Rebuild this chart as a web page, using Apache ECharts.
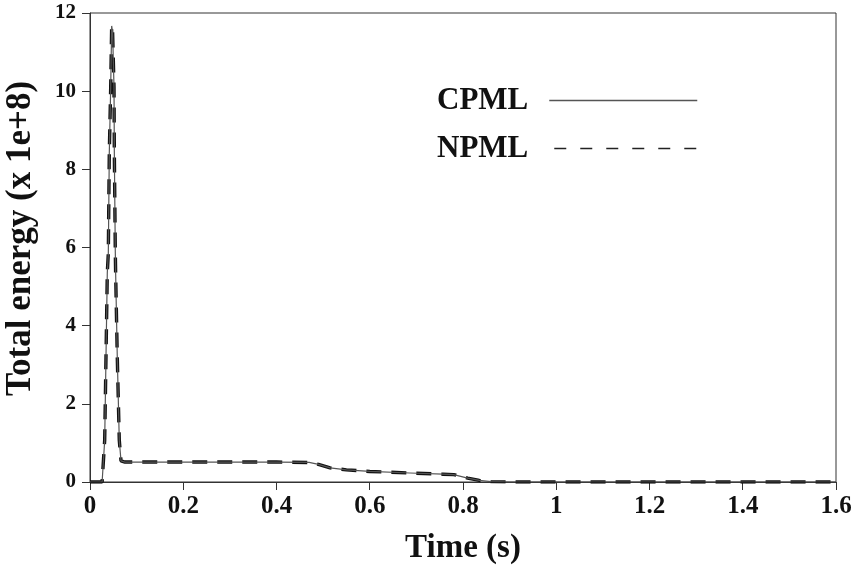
<!DOCTYPE html>
<html>
<head>
<meta charset="utf-8">
<script src="https://cdn.jsdelivr.net/npm/echarts@6/dist/echarts.min.js"></script>
<style>html,body{margin:0;padding:0;background:#fff}#c{width:860px;height:576px}</style>
</head>
<body>
<div id="c"></div>
<script>
// Time (s)
const timeValues = [0, 0.026, 0.0315, 0.0343, 0.0371, 0.0393, 0.0414, 0.0444, 0.0465, 0.0485, 0.0515, 0.0522, 0.0543, 0.055, 0.0585, 0.0628, 0.0665, 0.075, 0.2, 0.4, 0.47, 0.49, 0.515, 0.55, 0.6, 0.686, 0.757, 0.78, 0.81, 0.835, 0.86, 0.9, 1.2, 1.6];
// Total energy (x 1e+8)
const cpmlValues = [0, 0, 1.07, 3.2, 5.35, 5.86, 8.42, 10.1, 11.67, 11.5, 10.1, 8.42, 5.86, 5.35, 3.2, 1.07, 0.54, 0.51, 0.51, 0.51, 0.5, 0.45, 0.36, 0.31, 0.27, 0.23, 0.2, 0.19, 0.1, 0.04, 0.01, 0, 0, 0];
const npmlValues = [0, 0, 1.07, 3.2, 5.35, 5.86, 8.42, 10.1, 11.67, 11.5, 10.1, 8.42, 5.86, 5.35, 3.2, 1.07, 0.54, 0.51, 0.51, 0.51, 0.5, 0.45, 0.36, 0.31, 0.27, 0.23, 0.2, 0.19, 0.1, 0.04, 0.01, 0, 0, 0];
const seriesNames = ['CPML', 'NPML'];
const xTicks = [0, 0.2, 0.4, 0.6, 0.8, 1, 1.2, 1.4, 1.6];
const yTicks = [0, 2, 4, 6, 8, 10, 12];

const font = '"Liberation Serif", "Times New Roman", serif';
const axisColor = '#333';
const pair = (xs, ys) => xs.map((x, i) => [x, ys[i]]);

const chart = echarts.init(document.getElementById('c'));
chart.setOption({
  animation: false,
  backgroundColor: '#fff',
  grid: { left: 90, right: 24, top: 13, bottom: 94, show: true, borderColor: axisColor, borderWidth: 1, containLabel: false, outerBoundsMode: 'none' },
  legend: {
    orient: 'vertical',
    left: 432, top: 80,
    align: 'right',
    itemWidth: 148, itemHeight: 14, itemGap: 17,
    textStyle: { fontFamily: font, fontWeight: 'bold', fontSize: 31, color: '#111', padding: [0, 16, 0, 0] },
    data: [
      { name: seriesNames[0], itemStyle: { opacity: 0 }, lineStyle: { color: '#555', width: 1.5, type: 'solid' } },
      { name: seriesNames[1], itemStyle: { opacity: 0 }, lineStyle: { color: '#222', width: 1.5, type: [12, 14], dashOffset: -5 } }
    ]
  },
  xAxis: {
    type: 'value', min: 0, max: 1.6, interval: 0.2,
    name: 'Time (s)', nameLocation: 'middle', nameGap: 50,
    nameTextStyle: { fontFamily: font, fontWeight: 'bold', fontSize: 33, color: '#111' },
    axisLine: { show: true, onZero: false, lineStyle: { color: axisColor, width: 1 } },
    axisTick: { show: true, length: 8, lineStyle: { color: axisColor } },
    splitLine: { show: false },
    axisLabel: { fontFamily: font, fontWeight: 'bold', fontSize: 25, color: '#111', margin: 12,
      formatter: v => { const t = xTicks.find(k => Math.abs(k - v) < 1e-9); return t === undefined ? '' : String(+t.toFixed(1)); } }
  },
  yAxis: {
    type: 'value', min: 0, max: 12, interval: 2,
    name: 'Total energy (x 1e+8)', nameLocation: 'middle', nameGap: 52, nameRotate: 90,
    nameTextStyle: { fontFamily: font, fontWeight: 'bold', fontSize: 35, color: '#111', padding: [0, 0, 0, 18] },
    axisLine: { show: true, lineStyle: { color: axisColor, width: 1 } },
    axisTick: { show: true, length: 8, lineStyle: { color: axisColor } },
    splitLine: { show: false },
    axisLabel: { fontFamily: font, fontWeight: 'bold', fontSize: 21, color: '#111', margin: 14,
      formatter: v => yTicks.includes(v) ? String(v) : '' }
  },
  series: [
    { name: seriesNames[0], type: 'line', data: pair(timeValues, cpmlValues), showSymbol: false, symbol: 'none',
      lineStyle: { color: '#555', width: 1.2, type: 'solid' }, itemStyle: { color: '#555' }, z: 3 },
    { name: seriesNames[1], type: 'line', data: pair(timeValues, npmlValues), showSymbol: false, symbol: 'none',
      lineStyle: { color: '#111', width: 3.4, type: [15, 10] }, itemStyle: { color: '#111' }, z: 2 }
  ]
});
</script>
</body>
</html>
